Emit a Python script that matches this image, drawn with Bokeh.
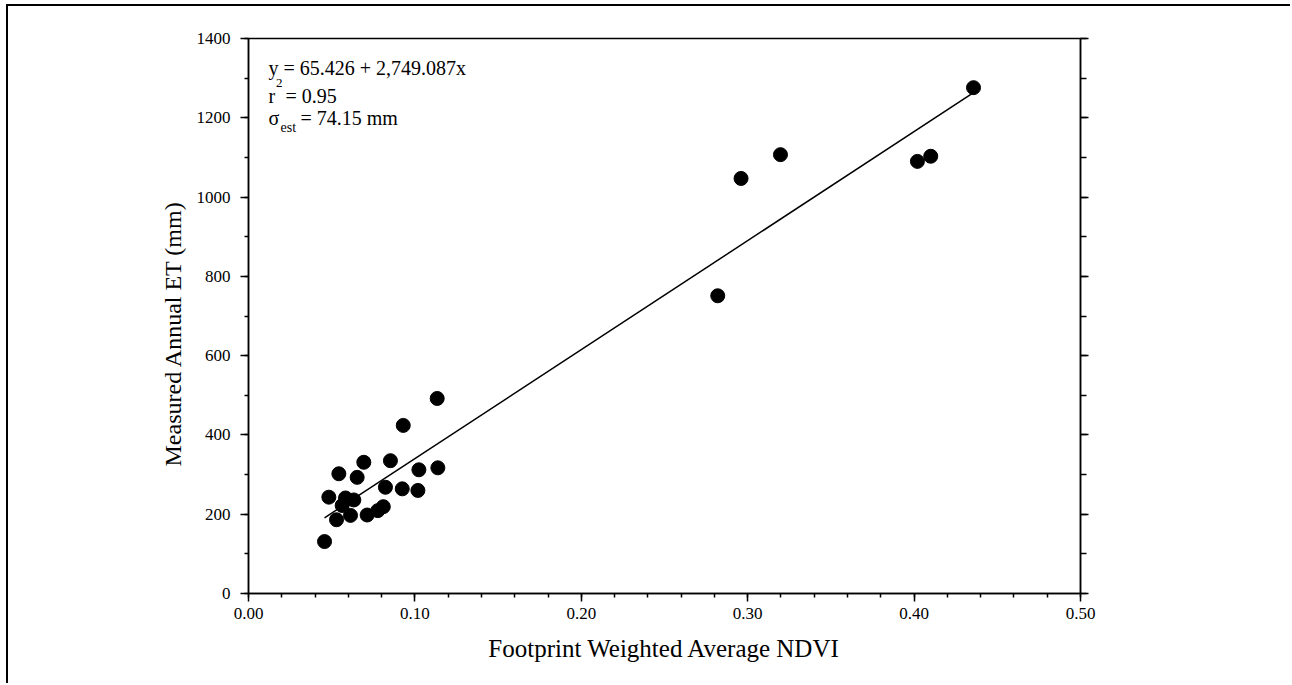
from bokeh.plotting import figure
from bokeh.models import (Range1d, LinearAxis, SingleIntervalTicker, PrintfTickFormatter,
                          Label, Title, ColumnDataSource)
from bokeh.embed import file_html
from bokeh.resources import INLINE

# ---- data ----
ndvi = [0.4357, 0.402, 0.410, 0.3197, 0.296, 0.282,
        0.1134, 0.093, 0.0693, 0.0853, 0.0543, 0.0653, 0.1024, 0.1138,
        0.0823, 0.0924, 0.1018, 0.0483, 0.0583, 0.0633, 0.0563, 0.0613,
        0.0529, 0.0713, 0.0777, 0.081, 0.0457]
et = [1276, 1090, 1103, 1107, 1047, 751,
      492, 424, 331, 335, 302, 293, 312, 317,
      268, 264, 260, 243, 241, 236, 222, 197,
      186, 198, 209, 219, 131]

intercept = 65.426
slope = 2749.087
x_ticks_interval = 0.1
y_ticks_interval = 200
x_title = "Footprint Weighted Average NDVI"
y_title = "Measured Annual ET (mm)"

FONT = "Liberation Serif"

p = figure(width=1284, height=679, output_backend="svg", toolbar_location=None,
           x_range=Range1d(0, 0.5), y_range=Range1d(0, 1400),
           min_border_left=240, min_border_right=212, min_border_top=32, min_border_bottom=92,
           x_axis_label=x_title)
p.margin = (4, 0, 0, 6)
p.styles = {"border-left": "2px solid black", "border-top": "2px solid black"}

p.grid.visible = False
p.outline_line_color = "black"
p.outline_line_width = 1.5
p.background_fill_color = "white"
p.border_fill_color = "white"

p.xaxis.ticker = SingleIntervalTicker(interval=x_ticks_interval, num_minor_ticks=5)
p.xaxis.formatter = PrintfTickFormatter(format="%.2f")
p.yaxis.ticker = SingleIntervalTicker(interval=y_ticks_interval, num_minor_ticks=2)

for ax in (p.xaxis[0], p.yaxis[0]):
    ax.axis_line_color = "black"
    ax.axis_line_width = 1.5
    ax.major_tick_line_color = "black"
    ax.major_tick_line_width = 1.5
    ax.minor_tick_line_color = "black"
    ax.minor_tick_line_width = 1.5
    ax.major_tick_in = 0
    ax.major_tick_out = 8
    ax.minor_tick_in = 0
    ax.minor_tick_out = 4
    ax.major_label_text_font = FONT
    ax.major_label_text_font_size = "17px"
    ax.major_label_text_color = "black"
    ax.axis_label_text_font = FONT
    ax.axis_label_text_font_size = "25px"
    ax.axis_label_text_font_style = "normal"
    ax.axis_label_text_color = "black"

p.xaxis.major_label_standoff = 6
p.xaxis.axis_label_standoff = 13
p.yaxis.major_label_standoff = 10

right = LinearAxis(ticker=SingleIntervalTicker(interval=y_ticks_interval, num_minor_ticks=2))
right.axis_line_color = "black"
right.axis_line_width = 1.5
right.major_tick_line_color = "black"
right.major_tick_line_width = 1.5
right.minor_tick_line_color = "black"
right.minor_tick_line_width = 1.5
right.major_tick_in = 0
right.major_tick_out = 8
right.minor_tick_in = 0
right.minor_tick_out = 6
right.major_label_text_font_size = "0px"
right.major_label_text_alpha = 0
p.add_layout(right, "right")

# y-axis title, placed as in the reference (slightly below the frame centre)
p.add_layout(Title(text=y_title, align="left", offset=127, standoff=16,
                   text_font=FONT, text_font_size="24px", text_font_style="normal",
                   text_color="black"), "left")

# regression line from the fitted equation, over the data's x extent
x0, x1 = min(ndvi), max(ndvi)
p.line([x0, x1], [intercept + slope * x0, intercept + slope * x1],
       line_color="black", line_width=1.5)

src = ColumnDataSource(dict(x=ndvi, y=et))
p.scatter("x", "y", source=src, size=14, fill_color="black", line_color="black")

# equation text block
tx = 0.012
def lab(text, y, xoff=0, size="20px"):
    p.add_layout(Label(x=tx, y=y, x_offset=xoff, text=text, text_font=FONT,
                       text_font_size=size, text_color="black",
                       text_baseline="alphabetic"))

lab("y = 65.426 + 2,749.087x", 1325)
lab("r", 1255)
lab("2", 1288, xoff=7.5, size="13px")
lab("= 0.95", 1255, xoff=17)
lab("\u03c3", 1200)
lab("est", 1176, xoff=12, size="14px")
lab("= 74.15 mm", 1200, xoff=32)

open("out.html", "w").write(file_html(p, INLINE))
